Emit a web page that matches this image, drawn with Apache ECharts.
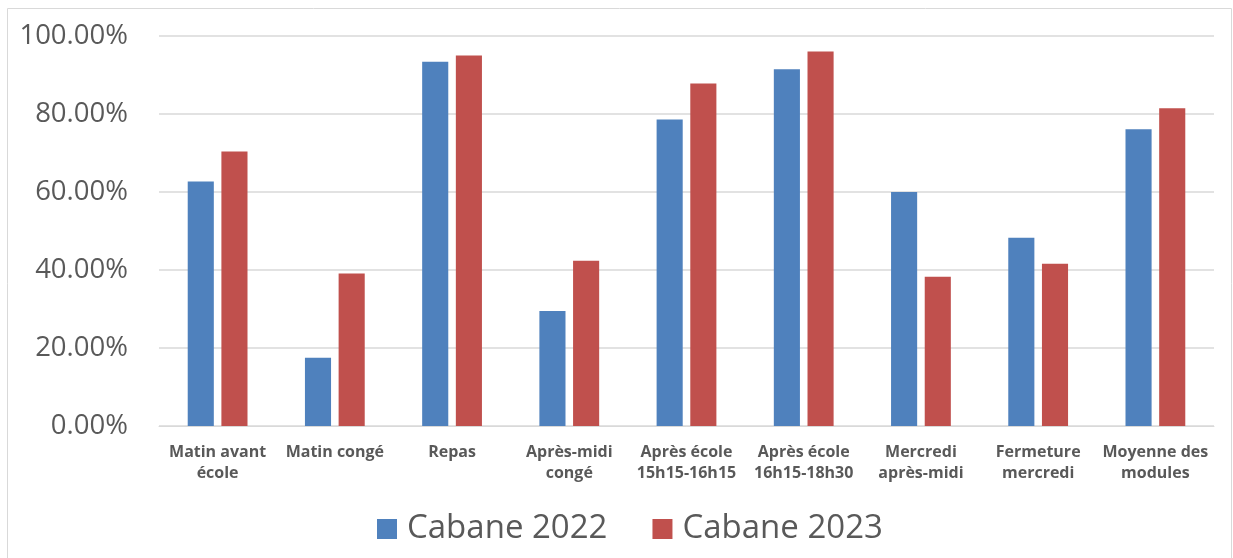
<!DOCTYPE html>
<html>
<head>
<meta charset="utf-8">
<script src="https://cdn.jsdelivr.net/npm/echarts@6/dist/echarts.min.js"></script>
<style>
  html, body { margin: 0; padding: 0; background: #fff; }
  #chart { width: 1233px; height: 558px; }
</style>
</head>
<body>
<div id="chart"></div>
<script>
// categories (line breaks as in the picture)
const categories = [
  'Matin avant\nécole',
  'Matin congé',
  'Repas',
  'Après-midi\ncongé',
  'Après école\n15h15-16h15',
  'Après école\n16h15-18h30',
  'Mercredi\naprès-midi',
  'Fermeture\nmercredi',
  'Moyenne des\nmodules'
]
const seriesNames = ['Cabane 2022', 'Cabane 2023']
const cabane2022 = [62.7, 17.5, 93.4, 29.5, 78.6, 91.5, 60.0, 48.3, 76.1]
const cabane2023 = [70.4, 39.1, 95.0, 42.4, 87.8, 96.0, 38.3, 41.6, 81.5]

const textColor = '#595959'
const gridColor = '#d9d9d9'

const chart = echarts.init(document.getElementById('chart'))

const option = {
  animation: false,
  color: ['#4F81BD', '#C0504D'],
  graphic: [
    {
      type: 'rect',
      shape: { x: 7.5, y: 8.5, width: 1224, height: 600 },
      style: { fill: 'none', stroke: gridColor, lineWidth: 1 },
      silent: true
    }
  ],
  grid: {
    left: 159,
    right: 19,
    top: 36,
    bottom: 132
  },
  legend: {
    data: seriesNames,
    left: 372,
    top: 504,
    itemWidth: 20,
    itemHeight: 20,
    itemGap: 45,
    icon: 'rect',
    textStyle: {
      color: textColor,
      fontFamily: 'Open Sans',
      fontSize: 33,
      lineHeight: 40,
      padding: [0, 0, 0, 5]
    }
  },
  xAxis: {
    type: 'category',
    data: categories,
    axisLine: { lineStyle: { color: gridColor, width: 1 } },
    axisTick: { show: false },
    axisLabel: {
      interval: 0,
      margin: 16,
      color: textColor,
      fontFamily: 'Open Sans',
      fontWeight: 'bold',
      fontSize: 16,
      lineHeight: 21
    }
  },
  yAxis: {
    type: 'value',
    min: 0,
    max: 100,
    interval: 20,
    axisLine: { show: false },
    axisTick: { show: false },
    splitLine: { lineStyle: { color: gridColor, width: 1.5 } },
    axisLabel: {
      margin: 31,
      color: textColor,
      fontFamily: 'Open Sans',
      fontSize: 27.5,
      formatter: (v) => v.toFixed(2) + '%'
    }
  },
  series: [
    {
      name: seriesNames[0],
      type: 'bar',
      data: cabane2022,
      barGap: '29%',
      barCategoryGap: '49%'
    },
    {
      name: seriesNames[1],
      type: 'bar',
      data: cabane2023,
      barGap: '29%',
      barCategoryGap: '49%'
    }
  ]
}

chart.setOption(option)
</script>
</body>
</html>
